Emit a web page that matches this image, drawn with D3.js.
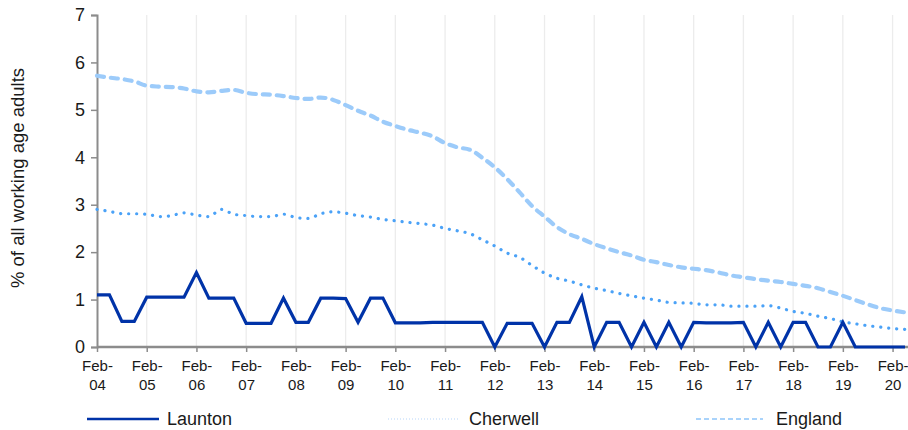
<!DOCTYPE html>
<html>
<head>
<meta charset="utf-8">
<script src="https://cdn.jsdelivr.net/npm/d3@7"></script>
<style>
  html, body { margin: 0; padding: 0; background: #fff; }
  svg { display: block; font-family: "Liberation Sans", Arial, sans-serif; }
</style>
</head>
<body>
<svg id="chart" width="908" height="430"></svg>
<script>
// ---- data ----
const years = ["04","05","06","07","08","09","10","11","12","13","14","15","16","17","18","19","20"];
const months = ["Feb","May","Aug","Nov"];
const categories = [];
years.forEach(y => months.forEach(m => categories.push(m + "-" + y)));
categories.splice(66); // Feb-04 .. May-20

const launton = [
  1.10,1.10,0.54,0.54, 1.05,1.05,1.05,1.05, 1.57,1.03,1.03,1.03, 0.50,0.50,0.50,1.03,
  0.52,0.52,1.03,1.03, 1.02,0.52,1.03,1.03, 0.51,0.51,0.51,0.52, 0.52,0.52,0.52,0.52,
  0.00,0.50,0.50,0.50, 0.00,0.52,0.52,1.06, 0.00,0.52,0.52,0.00, 0.52,0.00,0.52,0.00,
  0.52,0.51,0.51,0.51, 0.52,0.00,0.52,0.00, 0.52,0.52,0.00,0.00, 0.52,0.00,0.00,0.00,
  0.00,0.00
];
const cherwell = [
  2.90,2.86,2.81,2.81, 2.80,2.75,2.77,2.83, 2.78,2.75,2.90,2.80, 2.77,2.75,2.75,2.80,
  2.73,2.71,2.81,2.85, 2.82,2.77,2.74,2.69, 2.66,2.63,2.60,2.57, 2.50,2.45,2.39,2.26,
  2.13,1.98,1.89,1.72, 1.56,1.45,1.39,1.31, 1.24,1.19,1.13,1.08, 1.03,0.99,0.94,0.93,
  0.92,0.89,0.89,0.86, 0.86,0.86,0.87,0.82, 0.75,0.71,0.65,0.60, 0.53,0.49,0.45,0.42,
  0.39,0.37
];
const england = [
  5.72,5.68,5.65,5.60, 5.51,5.49,5.48,5.45, 5.39,5.37,5.40,5.42, 5.36,5.33,5.32,5.29,
  5.25,5.23,5.26,5.21, 5.10,4.98,4.88,4.75, 4.66,4.58,4.52,4.44, 4.30,4.21,4.16,3.99,
  3.79,3.54,3.26,2.97, 2.75,2.53,2.38,2.28, 2.17,2.08,2.00,1.93, 1.84,1.79,1.73,1.68,
  1.65,1.62,1.57,1.51, 1.47,1.43,1.40,1.37, 1.33,1.29,1.24,1.16, 1.08,0.99,0.90,0.82,
  0.77,0.73
];
const yTicks = [0,1,2,3,4,5,6,7];
const seriesNames = ["Launton","Cherwell","England"];

// ---- layout ----
const svg = d3.select("#chart");
const mLeft = 97, mRight = 905, mTop = 15, mBottom = 347;

const x = d3.scalePoint().domain(categories).range([mLeft, mRight]);
const y = d3.scaleLinear().domain([0, 7]).range([mBottom, mTop]);

const febTicks = categories.filter(c => c.startsWith("Feb"));

// vertical gridlines
svg.append("g").selectAll("line").data(febTicks.slice(1)).join("line")
  .attr("x1", d => x(d)).attr("x2", d => x(d))
  .attr("y1", mTop).attr("y2", mBottom)
  .attr("stroke", "#ececec").attr("stroke-width", 1.3);

// y axis
const yAxis = svg.append("g").attr("transform", `translate(${mLeft},0)`)
  .call(d3.axisLeft(y).tickValues(yTicks).tickSize(6).tickPadding(6).tickFormat(d3.format("d")));
yAxis.select(".domain").attr("stroke", "#8c8c8c").attr("stroke-width", 2);
yAxis.selectAll(".tick line").attr("stroke", "#8c8c8c").attr("stroke-width", 1.5);
yAxis.selectAll(".tick text").attr("font-size", 18).attr("fill", "#1a1a1a")
  .attr("font-family", "Liberation Sans, Arial, sans-serif");

// x axis
const xAxis = svg.append("g").attr("transform", `translate(0,${mBottom})`)
  .call(d3.axisBottom(x).tickValues(febTicks).tickSize(5).tickFormat(""));
xAxis.select(".domain").attr("stroke", "#8c8c8c").attr("stroke-width", 2.5)
  .attr("d", `M${mLeft},0H${908}`);
xAxis.selectAll(".tick line").attr("stroke", "#8c8c8c").attr("stroke-width", 1.5);
xAxis.selectAll(".tick").each(function(d) {
  const parts = d.split("-");
  const t = d3.select(this).append("text")
    .attr("fill", "#1a1a1a").attr("font-size", 15).attr("text-anchor", "middle")
    .attr("font-family", "Liberation Sans, Arial, sans-serif");
  t.append("tspan").attr("x", 0).attr("y", 24).text(parts[0] + "-");
  t.append("tspan").attr("x", 0).attr("y", 43).text(parts[1]);
});

// y title
svg.append("text")
  .attr("transform", `translate(24,${(mTop + mBottom) / 2 - 3}) rotate(-90)`)
  .attr("text-anchor", "middle").attr("font-size", 18.5).attr("fill", "#1a1a1a")
  .text("% of all working age adults");

// lines
const lineLin = d3.line().x((d, i) => x(categories[i])).y(d => y(d));
const lineSmooth = d3.line().x((d, i) => x(categories[i])).y(d => y(d)).curve(d3.curveMonotoneX);

svg.append("path").datum(england).attr("d", lineSmooth)
  .attr("fill", "none").attr("stroke", "#9ccbfa").attr("stroke-width", 4.2)
  .attr("stroke-dasharray", "7 7").attr("stroke-linecap", "round");
svg.append("path").datum(cherwell).attr("d", lineSmooth)
  .attr("fill", "none").attr("stroke", "#4ba2f7").attr("stroke-width", 3.2)
  .attr("stroke-dasharray", "0.1 7.9").attr("stroke-linecap", "round");
svg.append("path").datum(launton).attr("d", lineLin)
  .attr("fill", "none").attr("stroke", "#0033a8").attr("stroke-width", 3.2)
  .attr("stroke-linejoin", "miter");

// legend
const legendY = 419;
const legend = [
  {name: seriesNames[0], x1: 87, x2: 159, tx: 167, stroke: "#0033a8", w: 2.5, dash: null},
  {name: seriesNames[1], x1: 388, x2: 458, tx: 469, stroke: "#cfe4fb", w: 1.5, dash: "1 2"},
  {name: seriesNames[2], x1: 696, x2: 763, tx: 776, stroke: "#a9d3fb", w: 2.2, dash: "5 3"}
];
legend.forEach(l => {
  svg.append("line").attr("x1", l.x1).attr("x2", l.x2).attr("y1", legendY).attr("y2", legendY)
    .attr("stroke", l.stroke).attr("stroke-width", l.w).attr("stroke-dasharray", l.dash);
  svg.append("text").attr("x", l.tx).attr("y", legendY + 6).attr("font-size", 18)
    .attr("fill", "#1a1a1a").text(l.name);
});
</script>
</body>
</html>
